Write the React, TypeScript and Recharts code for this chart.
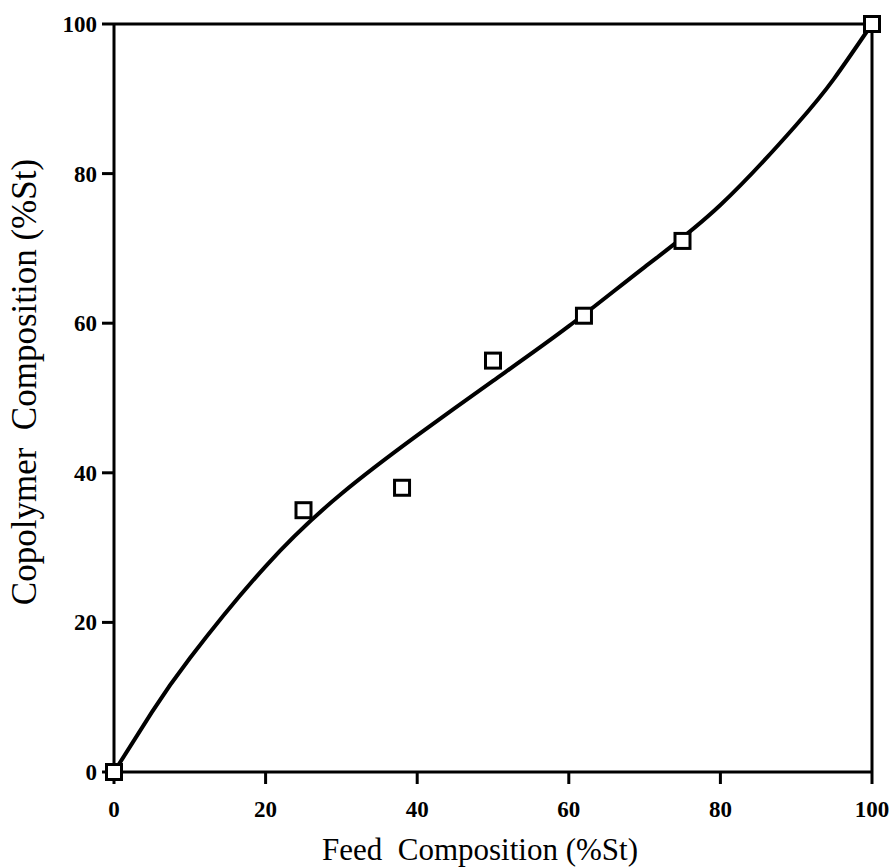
import { ComposedChart, Line, Scatter, XAxis, YAxis, ReferenceLine, Label } from 'recharts';

// measured copolymer composition vs. feed composition (%St)
const feedPts = [0, 25, 38, 50, 62, 75, 100];
const copolyPts = [0, 35, 38, 55, 61, 71, 100];

// fitted composition curve
const curveFeed = [0, 5, 10, 20, 30, 40, 50, 60, 70, 80, 90, 95, 100];
const curveCopoly = [0, 8, 15.2, 27.5, 37.2, 45, 52.3, 59.6, 67.5, 75.8, 86.5, 92.7, 100];

const ticks = [0, 20, 40, 60, 80, 100];

const points = feedPts.map((x, i) => ({ x, y: copolyPts[i] }));
const curve = curveFeed.map((x, i) => ({ x, y: curveCopoly[i] }));

const FONT = '"Liberation Serif", "Times New Roman", serif';
const INK = '#000';

const SquareMark = (props: any) => {
  const { cx, cy } = props;
  const s = 15;
  return <rect x={cx - s / 2} y={cy - s / 2} width={s} height={s} fill="#fff" stroke={INK} strokeWidth={3} />;
};

const XTick = ({ x, y, payload }: any) => (
  <text x={x} y={y + 31} textAnchor="middle" fontFamily={FONT} fontSize={23} fontWeight={700} fill={INK}>
    {payload.value}
  </text>
);

const YTick = ({ x, y, payload }: any) => (
  <text x={x - 3} y={y + 8} textAnchor="end" fontFamily={FONT} fontSize={23} fontWeight={700} fill={INK}>
    {payload.value}
  </text>
);

export default function App() {
  return (
    <div style={{ background: '#fff', width: 894, height: 868 }}>
      <style>{'body{margin:0}'}</style>
      <ComposedChart width={894} height={868} margin={{ top: 24, right: 22, bottom: 0, left: 0 }}>
        <XAxis
          type="number"
          dataKey="x"
          domain={[0, 100]}
          ticks={ticks}
          height={96}
          tickSize={12}
          tick={<XTick />}
          axisLine={{ stroke: INK, strokeWidth: 3 }}
          tickLine={{ stroke: INK, strokeWidth: 3 }}
        >
          <Label
            content={() => (
              <text x={480} y={860} textAnchor="middle" fontFamily={FONT} fontSize={31} fill={INK}>
                {'Feed\u00A0 Composition (%St)'}
              </text>
            )}
          />
        </XAxis>
        <YAxis
          type="number"
          dataKey="y"
          domain={[0, 100]}
          ticks={ticks}
          width={114}
          tickSize={12}
          tick={<YTick />}
          axisLine={{ stroke: INK, strokeWidth: 3 }}
          tickLine={{ stroke: INK, strokeWidth: 3 }}
        >
          <Label
            content={() => (
              <text
                x={36}
                y={382}
                transform="rotate(-90 36 382)"
                textAnchor="middle"
                fontFamily={FONT}
                fontSize={35}
                fill={INK}
              >
                {'Copolymer\u00A0 Composition (%St)'}
              </text>
            )}
          />
        </YAxis>
        <ReferenceLine y={100} stroke={INK} strokeWidth={3} />
        <ReferenceLine x={100} stroke={INK} strokeWidth={3} />
        <Line
          data={curve}
          dataKey="y"
          type="natural"
          stroke={INK}
          strokeWidth={4}
          dot={false}
          activeDot={false}
          isAnimationActive={false}
        />
        <Scatter data={points} dataKey="y" shape={SquareMark} isAnimationActive={false} />
      </ComposedChart>
    </div>
  );
}
